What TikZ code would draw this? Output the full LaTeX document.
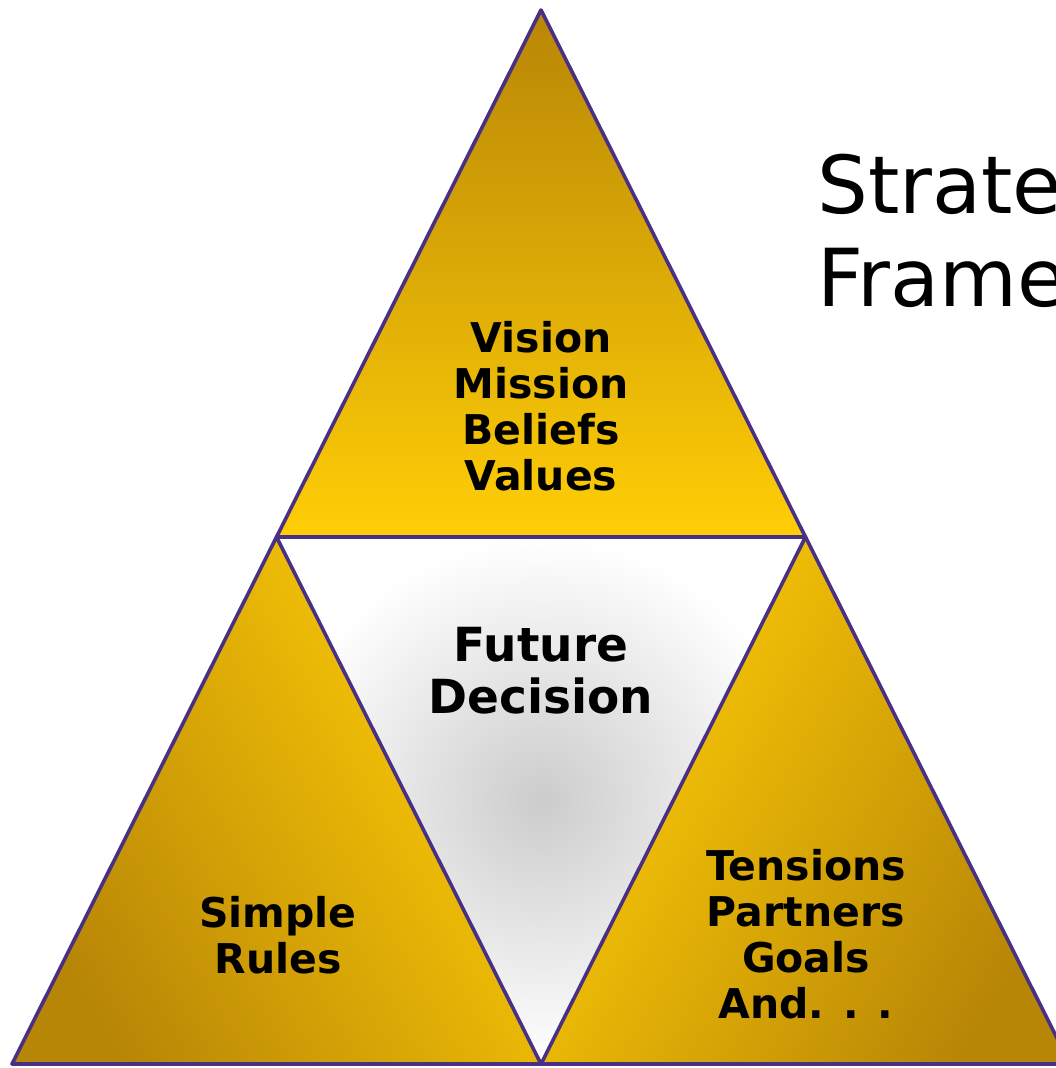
\documentclass[tikz,border=0pt]{standalone}
\usepackage{fontspec}
\setmainfont{DejaVu Sans}
\usetikzlibrary{positioning}
\definecolor{rim}{RGB}{72,48,132}
\definecolor{goldhi}{RGB}{255,206,6}
\definecolor{goldmid}{RGB}{236,178,0}
\definecolor{goldlo}{RGB}{184,134,6}
\definecolor{fog}{RGB}{204,204,204}
\begin{document}
\begin{tikzpicture}
[x=1pt, y=-1pt,
 edge/.style ={draw=rim, line width=3.6pt, line join=round},
 lbl/.style ={font=\bfseries\fontsize{41}{46}\selectfont, align=center, inner sep=0pt},
 big/.style ={font=\bfseries\fontsize{47}{52}\selectfont, align=center, inner sep=0pt},
 head/.style ={font=\fontsize{80}{92}\selectfont, anchor=base west, inner sep=0pt}]
\useasboundingbox (0,0) rectangle (1056,1068);
\clip (0,0) rectangle (1056,1068);
% corners and mid points
\coordinate (apex) at (541,10);
\coordinate (bl) at (12,1064);
\coordinate (br) at (1070,1064);
\coordinate (ml) at (276.5,537);
\coordinate (mr) at (805.5,537);
\coordinate (mb) at (541,1064);
% the four parts
\shade[top color=goldlo, bottom color=goldhi] (apex) -- (ml) -- (mr) -- cycle;
\shade[left color=goldhi, right color=goldlo, shading angle=-60] (ml) -- (bl) -- (mb) -- cycle;
\shade[left color=goldhi, right color=goldlo, shading angle=60] (mr) -- (mb) -- (br) -- cycle;
\shade[inner color=fog, outer color=white] (ml) -- (mr) -- (mb) -- cycle;
% outlines
\draw[edge] (apex) -- (bl) -- (br) -- cycle;
\draw[edge] (ml) -- (mr) -- (mb) -- cycle;
% texts
\node[lbl] (vision) at (541,406) {Vision\\Mission\\Beliefs\\Values};
\node[big] (future) at (541,671) {Future\\Decision};
\node[lbl] (rules) at (278,935) {Simple\\Rules};
\node[lbl] (tensions) at (806,934) {Tensions\\Partners\\Goals\\And. . .};
\node[head] (strat) at (817,213) {Strategic};
\node[head] (frame) at (817,306) {Framework};
\end{tikzpicture}
\end{document}
